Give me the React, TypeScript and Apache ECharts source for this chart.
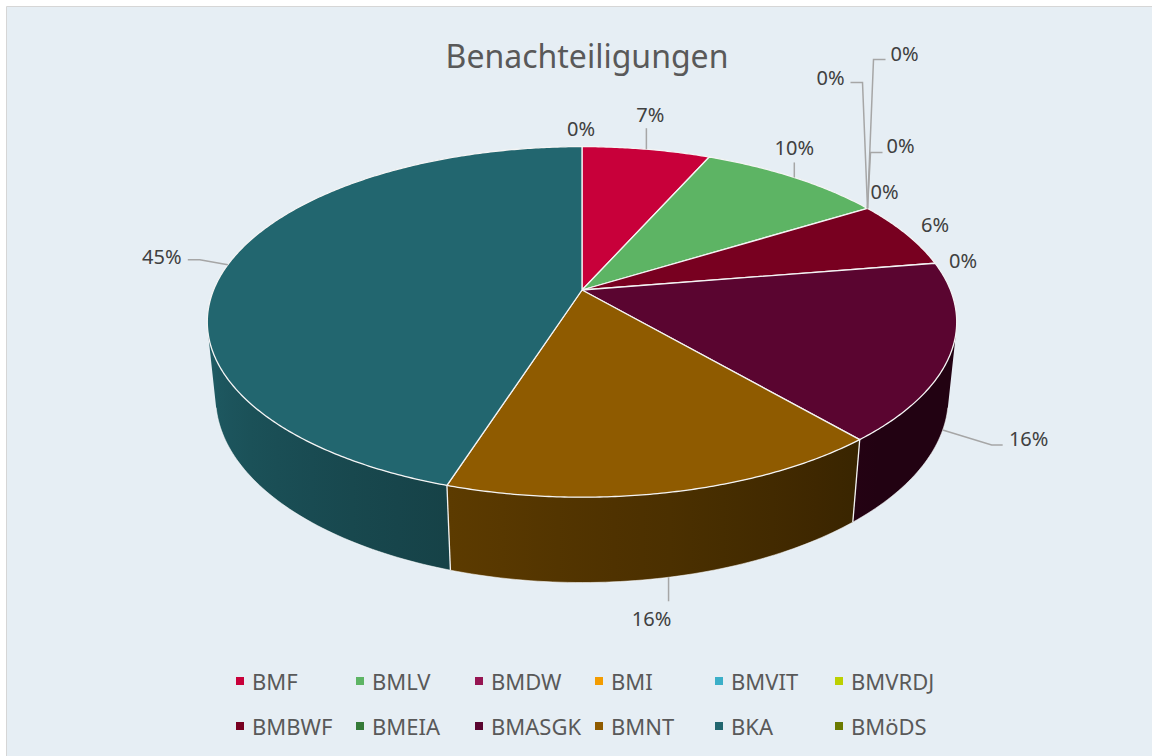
import React, { useEffect, useRef } from "react";
import * as echarts from "echarts";

// ---------- data ----------
const categories = ["BMF", "BMLV", "BMDW", "BMI", "BMVIT", "BMVRDJ", "BMBWF", "BMEIA", "BMASGK", "BMNT", "BKA", "BMöDS"];
const values = [6.6, 9.55, 0, 0, 0, 0, 6.25, 0, 16.35, 16.15, 45.1, 0];
const colors = ["#C8003A", "#5DB464", "#961552", "#F39C00", "#3BAFC8", "#BCD000", "#780020", "#347A38", "#5A0530", "#8F5B00", "#22666F", "#6B7A00"];
const chartTitle = "Benachteiligungen";

// ---------- layout (label offsets from each slice's anchor, px) ----------
const labelOffsets: number[][] = [
  [4, -35], [0, -30], [-37, -131], [37, -155], [33, -63], [17, -17],
  [29, -9], [28, -3], [86, 8], [-17, 41], [-66, -8], [-1, -18],
];
const leaderLines: number[][][] = [
  [[0, 0], [0, -21]],
  [[0, 0], [0, -15]],
  [[0, 0], [-5, -126], [-17, -126]],
  [[0, 0], [6, -149], [18, -149]],
  [[0, 0], [3, -56], [15, -56]],
  [], [], [],
  [[0, 0], [49, 15], [60, 15]],
  [[0, 0], [0, 24]],
  [[0, 0], [-28, -5], [-40, -5]],
  [],
];
const legendCols = [236, 356, 475, 595, 715, 835];
const legendRows = [670, 715];

// ---------- 3D projection ----------
const CX = 582, CY = 290, FOCAL = 1798, DIST = 4.88, TS = 0.46, TC = 0.888, THICK = 0.233;
const total = values.reduce((a, b) => a + b, 0);
const starts = values.map((_, i) => values.slice(0, i).reduce((a, b) => a + b, 0));
const toDeg = (v: number) => (v / total) * 360;
const VIS_MIN = (Math.acos(-1 / (DIST * TC)) * 180) / Math.PI;
const VIS_MAX = 360 - VIS_MIN;

function proj(deg: number, h: number, r = 1): number[] {
  const t = (deg * Math.PI) / 180;
  const X = r * Math.sin(t), Z = r * Math.cos(t);
  const depth = DIST + Z * TC - h * TS;
  const up = h * TC + Z * TS;
  return [CX + (FOCAL * X) / depth, CY - (FOCAL * up) / depth];
}

function shade(hex: string, f: number): string {
  const n = parseInt(hex.slice(1), 16);
  const r = Math.round(((n >> 16) & 255) * f);
  const g = Math.round(((n >> 8) & 255) * f);
  const b = Math.round((n & 255) * f);
  return `rgb(${r},${g},${b})`;
}
const bright = (deg: number) => Math.min(0.92, Math.max(0.38, 0.4 + (deg - 139) * 0.00415));

const FONT = "'Noto Sans', 'Open Sans', sans-serif";

export default function App() {
  const ref = useRef<HTMLDivElement>(null);
  useEffect(() => {
    document.body.style.margin = "0";
    const chart = echarts.init(ref.current!, null, { renderer: "svg" });

    const wallSeries: any = {
      type: "custom",
      name: "walls",
      coordinateSystem: "none",
      z: 1,
      silent: true,
      data: values.map((v) => [v]),
      renderItem: (params: any, api: any) => {
        const i = params.dataIndex;
        const v = api.value(0);
        const children: any[] = [];
        if (!v) return { type: "group", children };
        const a = toDeg(starts[i]);
        const b = a + toDeg(v);
        const lo = Math.max(a, VIS_MIN), hi = Math.min(b, VIS_MAX);
        if (hi > lo) {
          const n = Math.max(2, Math.ceil(hi - lo));
          const top: number[][] = [], bot: number[][] = [];
          for (let k = 0; k <= n; k++) {
            const th = lo + ((hi - lo) * k) / n;
            top.push(proj(th, 0));
            bot.push(proj(th, -THICK));
          }
          const xL = Math.min(proj(hi, 0)[0], proj(hi, -THICK)[0]);
          const xR = Math.max(proj(lo, 0)[0], proj(lo, -THICK)[0]);
          const stops: any[] = [];
          for (let k = 0; k <= 8; k++) {
            const th = hi - ((hi - lo) * k) / 8;
            const x = proj(th, -THICK / 2)[0];
            const off = Math.min(1, Math.max(0, (x - xL) / (xR - xL)));
            stops.push({ offset: off, color: shade(colors[i], bright(th)) });
          }
          const grad = new echarts.graphic.LinearGradient(xL, 0, xR, 0, stops, true);
          children.push({
            type: "polygon",
            shape: { points: top.concat(bot.slice().reverse()) },
            style: { fill: grad, stroke: null },
          });
          children.push({
            type: "polyline",
            shape: { points: bot },
            style: { stroke: "rgba(255,255,255,0.55)", lineWidth: 1, fill: null },
          });
          if (a >= VIS_MIN && a <= VIS_MAX) {
            const p1 = proj(a, 0), p2 = proj(a, -THICK);
            children.push({
              type: "line",
              z2: 5,
              shape: { x1: p1[0], y1: p1[1], x2: p2[0], y2: p2[1] },
              style: { stroke: "#F2F2F2", lineWidth: 1.3 },
            });
          }
        }
        return { type: "group", children };
      },
    };

    const topSeries: any[] = categories.map((name, i) => ({
      type: "custom",
      name,
      coordinateSystem: "none",
      z: 2,
      silent: true,
      itemStyle: { color: colors[i] },
      data: [[values[i]]],
      renderItem: (_params: any, api: any) => {
        const v = api.value(0);
        if (!v) return { type: "group", children: [] };
        const a = toDeg(starts[i]);
        const b = a + toDeg(v);
        const pts: number[][] = [[CX, CY]];
        const n = Math.max(2, Math.ceil((b - a) * 2));
        for (let k = 0; k <= n; k++) pts.push(proj(a + ((b - a) * k) / n, 0));
        return {
          type: "polygon",
          shape: { points: pts },
          style: { fill: colors[i], stroke: "#F4F4F4", lineWidth: 1.3, lineJoin: "round" },
        };
      },
    }));

    const labelSeries: any = {
      type: "custom",
      name: "labels",
      coordinateSystem: "none",
      z: 3,
      silent: true,
      data: values.map((v) => [v]),
      renderItem: (params: any, api: any) => {
        const i = params.dataIndex;
        const v = api.value(0);
        const mid = toDeg(starts[i] + v / 2);
        const front = Math.cos((mid * Math.PI) / 180) < -1 / (DIST * TC);
        const anc = front ? proj(mid, -THICK) : proj(mid, 0);
        const txt = Math.round((v / total) * 100) + "%";
        const children: any[] = [];
        const ll = leaderLines[i];
        if (ll.length) {
          children.push({
            type: "polyline",
            shape: { points: ll.map((p) => [anc[0] + p[0], anc[1] + p[1]]) },
            style: { stroke: "#A6A6A6", lineWidth: 1.5, fill: null },
          });
        }
        children.push({
          type: "text",
          style: {
            text: txt,
            x: anc[0] + labelOffsets[i][0],
            y: anc[1] + labelOffsets[i][1],
            align: "center",
            verticalAlign: "middle",
            textAlign: "center",
            textVerticalAlign: "middle",
            fill: "#404040",
            font: `20px ${FONT}`,
          },
        });
        return { type: "group", children };
      },
    };

    const legends = categories.map((name, i) => ({
      data: [name],
      left: legendCols[i % 6],
      top: legendRows[Math.floor(i / 6)],
      icon: "rect",
      itemWidth: 8,
      itemHeight: 8,
      selectedMode: false,
      padding: 0,
      textStyle: { fontSize: 22, color: "#595959", fontFamily: FONT, padding: [0, 0, 0, 3] },
    }));

    chart.setOption({
      animation: false,
      backgroundColor: "#FFFFFF",
      title: {
        text: chartTitle,
        left: 582,
        top: 34,
        textAlign: "center",
        textStyle: { fontSize: 32, fontWeight: "normal", color: "#595959", fontFamily: FONT },
      },
      graphic: [
        {
          type: "rect",
          z: -10,
          silent: true,
          shape: { x: 6.5, y: 6.5, width: 1200, height: 800 },
          style: { fill: "#E6EEF4", stroke: "#D6D6D6", lineWidth: 1 },
        },
      ],
      legend: legends,
      series: [wallSeries, ...topSeries, labelSeries],
    });
    return () => chart.dispose();
  }, []);
  return <div ref={ref} style={{ width: 1152, height: 756, position: "absolute", left: 0, top: 0 }} />;
}
